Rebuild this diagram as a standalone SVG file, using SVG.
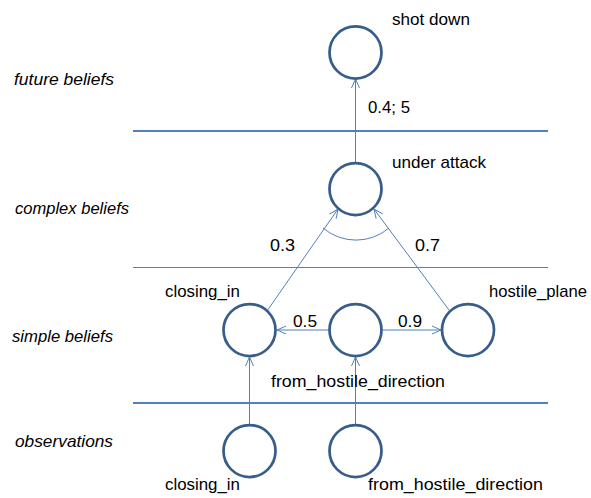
<svg xmlns="http://www.w3.org/2000/svg" width="591" height="498" viewBox="0 0 591 498">
<style>
.node{fill:#fff;stroke:#385D8A;stroke-width:2.75}
.lbl{font-family:"Liberation Sans",Arial,sans-serif;font-size:17px;fill:#000}
.lvl{font-family:"Liberation Sans",Arial,sans-serif;font-size:17px;font-style:italic;fill:#000}
.con{stroke:#4F81BD;stroke-width:1;fill:none}
.sep{stroke:#4F81BD;fill:none}
</style>
<defs>
<marker id="arr" viewBox="0 0 10 10" refX="10" refY="5" markerWidth="10" markerHeight="10" markerUnits="userSpaceOnUse" orient="auto">
<path d="M1,1 L10,5 L1,9" fill="none" stroke="#4F81BD" stroke-width="1"/>
</marker>
</defs>
<rect width="591" height="498" fill="#fff"/>
<g id="levels">
<line class="sep" x1="133" y1="131" x2="548" y2="131" stroke-width="2"/>
<line class="sep" x1="133" y1="267.5" x2="548" y2="267.5" stroke-width="1"/>
<line class="sep" x1="133" y1="403" x2="548" y2="403" stroke-width="2"/>
<text class="lvl" x="14" y="85" textLength="100" lengthAdjust="spacingAndGlyphs">future beliefs</text>
<text class="lvl" x="15" y="214" textLength="114" lengthAdjust="spacingAndGlyphs">complex beliefs</text>
<text class="lvl" x="12" y="342" textLength="101" lengthAdjust="spacingAndGlyphs">simple beliefs</text>
<text class="lvl" x="15" y="447" textLength="98" lengthAdjust="spacingAndGlyphs">observations</text>
</g>
<g id="connectors">
<line class="con" x1="355.5" y1="162" x2="355.5" y2="79" marker-end="url(#arr)"/>
<line class="con" x1="267" y1="311" x2="338" y2="209" marker-end="url(#arr)"/>
<line class="con" x1="449" y1="310" x2="374" y2="209" marker-end="url(#arr)"/>
<path class="con" d="M323,228 A51,51 0 0 0 389,228"/>
<line class="con" x1="329" y1="330" x2="277" y2="330" marker-end="url(#arr)"/>
<line class="con" x1="383" y1="330" x2="441" y2="330" marker-end="url(#arr)"/>
<line class="con" x1="249.5" y1="424" x2="249.5" y2="357" marker-end="url(#arr)"/>
<line class="con" x1="355.5" y1="424" x2="355.5" y2="357" marker-end="url(#arr)"/>
<text class="lbl" x="368" y="113" textLength="42" lengthAdjust="spacingAndGlyphs">0.4; 5</text>
<text class="lbl" x="270" y="251" textLength="25" lengthAdjust="spacingAndGlyphs">0.3</text>
<text class="lbl" x="415" y="251" textLength="25" lengthAdjust="spacingAndGlyphs">0.7</text>
<text class="lbl" x="293" y="327" textLength="24" lengthAdjust="spacingAndGlyphs">0.5</text>
<text class="lbl" x="398" y="327" textLength="24" lengthAdjust="spacingAndGlyphs">0.9</text>
</g>
<g id="shot_down">
<circle class="node" cx="355.5" cy="52.5" r="26"/>
<text class="lbl" x="392" y="25" textLength="78" lengthAdjust="spacingAndGlyphs">shot down</text>
</g>
<g id="under_attack">
<circle class="node" cx="355.5" cy="189" r="26"/>
<text class="lbl" x="392" y="168" textLength="94" lengthAdjust="spacingAndGlyphs">under attack</text>
</g>
<g id="closing_in_belief">
<circle class="node" cx="249.5" cy="330" r="26"/>
<text class="lbl" x="165" y="297" textLength="75" lengthAdjust="spacingAndGlyphs">closing_in</text>
</g>
<g id="from_hostile_direction_belief">
<circle class="node" cx="355.5" cy="330" r="26"/>
<text class="lbl" x="271" y="387" textLength="174" lengthAdjust="spacingAndGlyphs">from_hostile_direction</text>
</g>
<g id="hostile_plane">
<circle class="node" cx="468" cy="330" r="26"/>
<text class="lbl" x="489" y="297" textLength="98" lengthAdjust="spacingAndGlyphs">hostile_plane</text>
</g>
<g id="closing_in_obs">
<circle class="node" cx="249.5" cy="451" r="26"/>
<text class="lbl" x="165" y="490" textLength="75" lengthAdjust="spacingAndGlyphs">closing_in</text>
</g>
<g id="from_hostile_direction_obs">
<circle class="node" cx="355.5" cy="451" r="26"/>
<text class="lbl" x="368" y="490" textLength="175" lengthAdjust="spacingAndGlyphs">from_hostile_direction</text>
</g>
</svg>
